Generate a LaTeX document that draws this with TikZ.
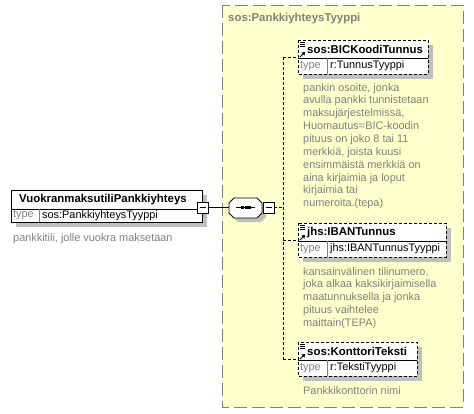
\documentclass[tikz,border=0pt]{standalone}
\usepackage{fontspec}
\setmainfont{Liberation Sans}
\begin{document}
\begin{tikzpicture}[x=1pt,y=-1pt,
  grp/.style={draw=gray!100,fill=yellow!20,dash pattern=on 13pt off 5pt,line width=0.9pt},
  shadowbox/.style={fill=black!25,draw=none},
  elbox/.style={draw=black,fill=white,line width=0.8pt},
  refbox/.style={draw=black,fill=white,line width=0.8pt,dash pattern=on 3pt off 2pt},
  conn/.style={draw=black,line width=0.8pt,dash pattern=on 3pt off 2pt},
  solidconn/.style={draw=black,line width=0.8pt},
  ttl/.style={anchor=west,inner sep=0pt,font=\fontsize{11.4}{13}\selectfont\bfseries},
  typelbl/.style={anchor=west,inner sep=0pt,text=black!50,font=\fontsize{10.9}{12.8}\selectfont},
  typeval/.style={anchor=west,inner sep=0pt,font=\fontsize{10.9}{12.8}\selectfont},
  desc/.style={anchor=north west,inner sep=0pt,align=left,text=black!50,font=\fontsize{10.9}{12.85}\selectfont},
  pm/.style={draw=black,fill=white,line width=0.8pt}
]
\useasboundingbox (0,0) rectangle (474,413);
\definecolor{grpfill}{RGB}{255,255,204}
% group box
\path[grp,fill=grpfill] (222,5) rectangle (463,407);
\node[ttl,text=black!50] (gtitle) at (228,19) {sos:PankkiyhteysTyyppi};

% main element
\path[shadowbox] (16,195) rectangle (207,227);
\path[elbox] (11,190) rectangle (202,222);
\draw[black,line width=0.6pt] (11,209) -- (202,209);
\draw[black!50,line width=0.6pt] (39,209) -- (39,222);
\node[ttl] (mainname) at (19,199.5) {VuokranmaksutiliPankkiyhteys};
\node[typelbl] (maintype) at (13,215.5) {type};
\node[typeval] (maintypev) at (42,215.5) {sos:PankkiyhteysTyyppi};
\node[desc] (maindesc) at (13,233) {pankkitili, jolle vuokra maksetaan};

% main minus box
\path[pm] (197,202) rectangle (208,213);
\draw[black,line width=0.8pt] (199.5,207.5) -- (205.5,207.5);
\coordinate (mainout) at (208,207.5);

% sequence compositor
\path[shadowbox] (238,202) -- (261,202) -- (266,207) -- (266,217) -- (261,222) -- (238,222) -- (233,217) -- (233,207) -- cycle;
\path[elbox] (234,198) -- (257,198) -- (262,203) -- (262,213) -- (257,218) -- (234,218) -- (229,213) -- (229,203) -- cycle;
\coordinate (seqin) at (229,207.5);
\draw[black,line width=0.8pt] (236,207.5) -- (255,207.5);
\fill[black] (241,206) rectangle (244,209);
\fill[black] (244.5,206) rectangle (247.5,209);
\fill[black] (248,206) rectangle (251,209);
\path[pm] (263,202.5) rectangle (274,213);
\draw[black,line width=0.8pt] (265.5,207.5) -- (271.5,207.5);
\coordinate (seqout) at (274,207.5);
\draw[solidconn] (mainout) -- (seqin);

% branch line
\coordinate (bTop) at (283,57);
\coordinate (bMid) at (283,207.5);
\coordinate (bIban) at (283,240);
\coordinate (bBot) at (283,359);
\draw[conn] (seqout) -- (bMid);
\draw[conn] (bTop) -- (bBot);

% BIC element
\path[shadowbox] (303,45) rectangle (433,79);
\path[refbox] (298,40) rectangle (428,74);
\draw[black,line width=0.6pt] (298,58) -- (428,58);
\draw[black!50,line width=0.6pt] (327,58) -- (327,74);
\node[ttl] (bic) at (307,49.5) {sos:BICKoodiTunnus};
\node[typelbl] (bictl) at (300,66) {type};
\node[typeval] (bictv) at (330,66) {r:TunnusTyyppi};
\coordinate (bicin) at (298,57);
\draw[conn] (bTop) -- (bicin);
\node[desc] (bicdesc) at (303,83) {pankin osoite, jonka\\avulla pankki tunnistetaan\\maksujärjestelmissä,\\Huomautus=BIC-koodin\\pituus on joko 8 tai 11\\merkkiä, joista kuusi\\ensimmäistä merkkiä on\\aina kirjaimia ja loput\\kirjaimia tai\\numeroita.(tepa)};

% IBAN element
\path[shadowbox] (303,228) rectangle (451,262);
\path[refbox] (298,223) rectangle (446,257);
\draw[black,line width=0.6pt] (298,241) -- (446,241);
\draw[black!50,line width=0.6pt] (327,241) -- (327,257);
\node[ttl] (iban) at (307,232.5) {jhs:IBANTunnus};
\node[typelbl] (ibantl) at (300,249) {type};
\node[typeval] (ibantv) at (330,249) {jhs:IBANTunnusTyyppi};
\coordinate (ibanin) at (298,240);
\draw[conn] (bIban) -- (ibanin);
\node[desc] (ibandesc) at (303,267) {kansainvälinen tilinumero,\\joka alkaa kaksikirjaimisella\\maatunnuksella ja jonka\\pituus vaihtelee\\maittain(TEPA)};

% Konttori element
\path[shadowbox] (303,347) rectangle (422,381);
\path[refbox] (298,342) rectangle (417,376);
\draw[black,line width=0.6pt] (298,360) -- (417,360);
\draw[black!50,line width=0.6pt] (327,360) -- (327,376);
\node[ttl] (kont) at (307,351.5) {sos:KonttoriTeksti};
\node[typelbl] (konttl) at (300,368) {type};
\node[typeval] (konttv) at (330,368) {r:TekstiTyyppi};
\coordinate (kontin) at (298,359);
\draw[conn] (bBot) -- (kontin);
\node[desc] (kontdesc) at (303,386) {Pankkikonttorin nimi};

% reference icons
\foreach \yy in {40,223,342}{
  \draw[black,line width=0.6pt] (299.5,\yy+2) -- (304.5,\yy+2);
  \draw[black,line width=0.6pt] (299.5,\yy+4) -- (304.5,\yy+4);
  \draw[black,line width=0.6pt] (299.5,\yy+6) -- (304.5,\yy+6);
  \draw[black,line width=1pt] (300,\yy+17) -- (304,\yy+13);
  \fill[black] (305,\yy+12) -- (301.5,\yy+12.5) -- (304.5,\yy+15.5) -- cycle;
}
\end{tikzpicture}
\end{document}
